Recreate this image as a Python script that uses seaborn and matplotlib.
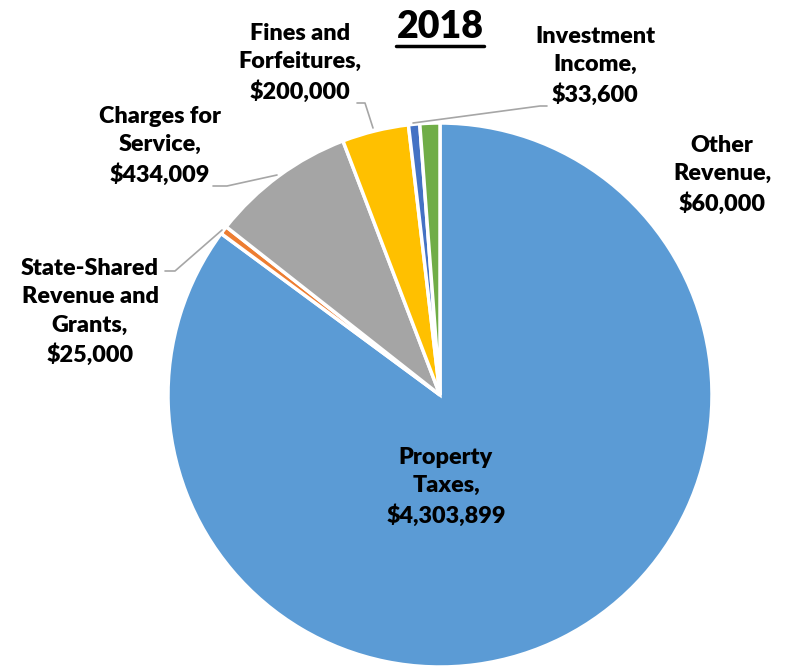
import matplotlib
matplotlib.use("Agg")
import matplotlib.pyplot as plt
import seaborn as sns

sns.set_theme(style="white")
plt.rcParams['font.family'] = ['Lato', 'DejaVu Sans']

categories = ["Property Taxes", "State-Shared Revenue and Grants", "Charges for Service",
              "Fines and Forfeitures", "Investment Income", "Other Revenue"]
values = [4303899, 25000, 434009, 200000, 33600, 60000]
label_text = ["Property\nTaxes,", "State-Shared\nRevenue and\nGrants,", "Charges for\nService,",
              "Fines and\nForfeitures,", "Investment\nIncome,", "Other\nRevenue,"]
colors = ["#5B9BD5", "#ED7D31", "#A5A5A5", "#FFC000", "#4472C4", "#70AD47"]

W, H = 786, 668
fig = plt.figure(figsize=(W / 100, H / 100), dpi=100)
ax = fig.add_axes([0, 0, 1, 1])

ax.pie(values, colors=colors, startangle=90, counterclock=False,
       center=(440, H - 395), radius=272,
       wedgeprops=dict(edgecolor="white", linewidth=2.5))

# pie() resets the limits, so set them afterwards
ax.set_xlim(0, W)
ax.set_ylim(0, H)
ax.set_aspect("equal")
ax.axis("off")

# label positions in image pixels (x, y from top)
label_pos = [(446, 487), (90, 312), (160, 146), (300, 63), (595, 66), (722, 175)]
for name, txt, v, (x, y) in zip(categories, label_text, values, label_pos):
    ax.text(x, H - y, f"{txt}\n${v:,}", ha="center", va="center",
            fontsize=16.8, fontweight="heavy", color="black", linespacing=1.42)

# leader lines
leaders = [
    [(165, 271), (175, 271), (222, 230)],
    [(213, 186), (227, 186), (277, 175)],
    [(357, 103), (365, 103), (373, 128)],
    [(547, 106), (540, 106), (413, 123)],
]
for pts in leaders:
    ax.plot([p[0] for p in pts], [H - p[1] for p in pts], color="#A6A6A6", lw=1.2)

ax.text(440, H - 27, "2018", ha="center", va="center",
        fontsize=27, fontweight="heavy", color="black")
ax.plot([396, 484], [H - 46, H - 46], color="black", lw=2.5)

fig.savefig("out.png", dpi=100)
